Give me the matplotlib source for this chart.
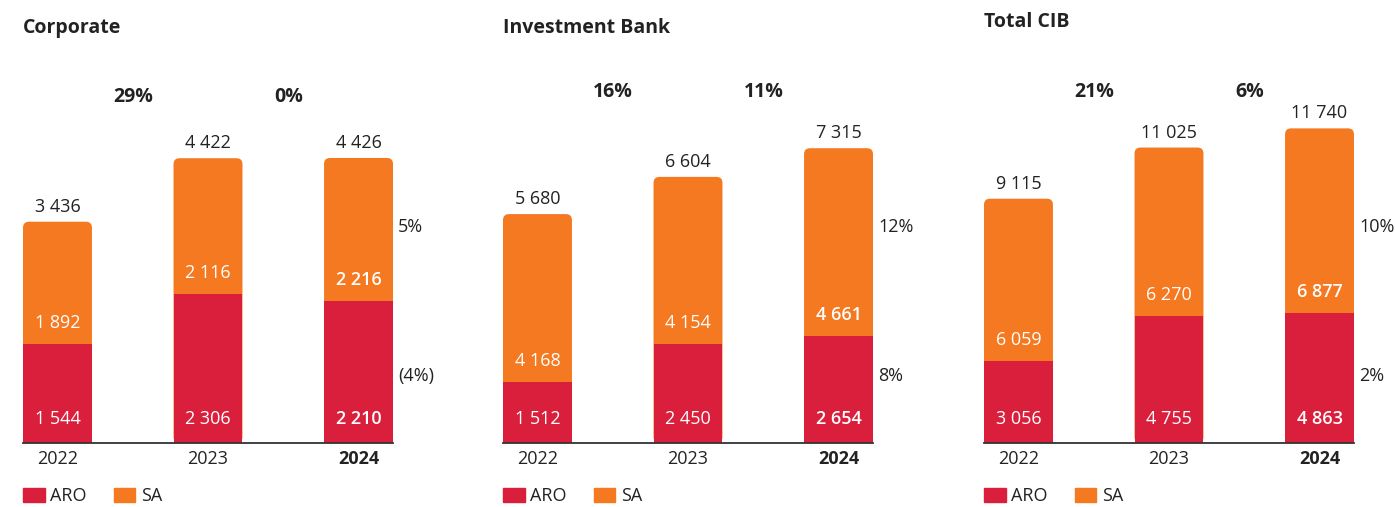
import matplotlib
matplotlib.use("Agg")
import matplotlib.pyplot as plt
from matplotlib.patches import FancyBboxPatch, Patch

plt.rcParams["font.family"] = ["Open Sans", "DejaVu Sans"]

# ---- dados ----
anos = ["2022", "2023", "2024"]
paineis = ["Corporate", "Investment Bank", "Total CIB"]

aro = [
    [1544, 2306, 2210],
    [1512, 2450, 2654],
    [3056, 4755, 4863],
]
sa = [
    [1892, 2116, 2216],
    [4168, 4154, 4661],
    [6059, 6270, 6877],
]
totais = [
    [3436, 4422, 4426],
    [5680, 6604, 7315],
    [9115, 11025, 11740],
]
crescimento = [
    ["29%", "0%"],
    ["16%", "11%"],
    ["21%", "6%"],
]
var_sa_2024 = ["5%", "12%", "10%"]
var_aro_2024 = ["(4%)", "8%", "2%"]

COR_ARO = "#DA1F3D"
COR_SA = "#F47920"
COR_TXT = "#222222"

# layout (pixels)
W, H = 1395, 507
lefts = [23, 503, 984]
ax_w, base_y, ax_h = 370, 443, 383
ylims = [5947, 9504, 14291]
titulo_y = [28, 28, 22]
cresc_y = [97, 92, 92]
bar_w = 0.458

def fmt(v):
    return f"{v:,}".replace(",", " ")

fig = plt.figure(figsize=(W / 100, H / 100), dpi=100)

for i, nome in enumerate(paineis):
    ax = fig.add_axes([lefts[i] / W, (H - base_y) / H, ax_w / W, ax_h / H])
    ax.set_xlim(-bar_w / 2, 2 + bar_w / 2)
    ax.set_ylim(0, ylims[i])
    xs = list(range(len(anos)))

    px_x = ax_w / (2 + bar_w)          # pixels por unidade x
    asp = (ylims[i] / ax_h) * px_x     # unidades y por unidade x (em pixels)
    r = 6 / px_x

    for x, a, t in zip(xs, aro[i], totais[i]):
        caixa = FancyBboxPatch((x - bar_w / 2, 0), bar_w, t,
                               boxstyle=f"round,pad=0,rounding_size={r}",
                               mutation_aspect=asp, fc=COR_SA, ec="none", zorder=2)
        ax.add_patch(caixa)
    ax.bar(xs, aro[i], width=bar_w, color=COR_ARO, zorder=3)

    for x, a, s, t in zip(xs, aro[i], sa[i], totais[i]):
        peso = "semibold" if x == 2 else "normal"
        ax.annotate(fmt(a), (x, 0), xytext=(0, 24), textcoords="offset pixels",
                    ha="center", va="center", color="white", fontsize=13,
                    fontweight=peso, zorder=4)
        ax.annotate(fmt(s), (x, a), xytext=(0, 21), textcoords="offset pixels",
                    ha="center", va="center", color="white", fontsize=13,
                    fontweight=peso, zorder=4)
        ax.annotate(fmt(t), (x, t), xytext=(0, 15), textcoords="offset pixels",
                    ha="center", va="center", color=COR_TXT, fontsize=13, zorder=4)

    for k, g in enumerate(crescimento[i]):
        ax.text(k + 0.5 + 20 / px_x, (base_y - cresc_y[i]) / ax_h, g,
                transform=ax.get_xaxis_transform(), ha="right", va="center",
                fontsize=14, fontweight="bold", color=COR_TXT)

    ax.text(2 + bar_w / 2 + 5 / px_x, 0.565, var_sa_2024[i],
            transform=ax.get_xaxis_transform(), ha="left", va="center",
            fontsize=13, color=COR_TXT)
    ax.text(2 + bar_w / 2 + 5 / px_x, 0.175, var_aro_2024[i],
            transform=ax.get_xaxis_transform(), ha="left", va="center",
            fontsize=13, color=COR_TXT)

    ax.text(0, (base_y - titulo_y[i]) / ax_h, nome, transform=ax.transAxes,
            ha="left", va="center", fontsize=14, fontweight="bold", color=COR_TXT)

    for lado in ["top", "right", "left"]:
        ax.spines[lado].set_visible(False)
    ax.spines["bottom"].set_color("#333333")
    ax.spines["bottom"].set_linewidth(1.3)
    ax.spines["bottom"].set_zorder(5)
    ax.set_yticks([])
    ax.set_xticks(xs)
    ax.set_xticklabels(anos, fontsize=13, color=COR_TXT)
    ax.get_xticklabels()[-1].set_fontweight("bold")
    ax.tick_params(axis="x", length=0, pad=5)

    handles = [Patch(color=COR_ARO, label="ARO"), Patch(color=COR_SA, label="SA")]
    ax.legend(handles=handles, ncol=2, frameon=False, loc="center left",
              bbox_to_anchor=(0, (base_y - 496) / ax_h), borderaxespad=0,
              borderpad=0, fontsize=13, handlelength=1.2, handleheight=0.85,
              handletextpad=0.3, columnspacing=1.5, labelcolor=COR_TXT)

fig.savefig("out.png", dpi=100)
